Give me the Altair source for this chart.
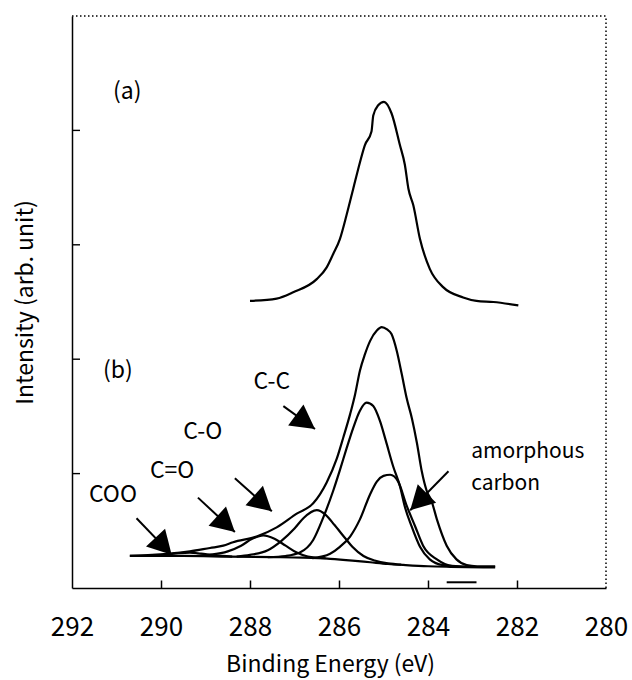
import altair as alt
import pandas as pd

FONT = "Noto Sans CJK JP"

# ---------------- data ----------------
# spectrum (a)
a_x = [288.0, 287.40, 287.03, 286.50, 286.28, 286.13, 285.98, 285.83, 285.68, 285.53,
       285.42, 285.27, 285.23, 285.12, 284.99, 284.82, 284.63, 284.52, 284.44, 284.33,
       284.18, 283.96, 283.66, 283.21, 282.91, 282.53, 281.97]
a_y = [2.51, 2.53, 2.585, 2.70, 2.80, 2.92, 3.05, 3.26, 3.49, 3.72,
       3.87, 3.99, 4.13, 4.22, 4.25, 4.15, 3.87, 3.70, 3.49, 3.345,
       3.05, 2.79, 2.63, 2.54, 2.51, 2.50, 2.47]

# spectrum (b): envelope
env_x = [290.70, 290.2, 289.57, 289.35, 288.90, 288.60, 288.38, 287.85, 287.40, 286.95,
         286.58, 286.28, 286.05, 285.90, 285.75, 285.64, 285.53, 285.42, 285.30, 285.15,
         285.04, 284.92, 284.82, 284.70, 284.59, 284.48, 284.36, 284.25, 284.14, 284.03,
         283.92, 283.80, 283.58, 283.36, 283.13, 282.91, 282.49]
env_y = [0.28, 0.29, 0.31, 0.32, 0.35, 0.37, 0.40, 0.45, 0.53, 0.65,
         0.74, 0.92, 1.13, 1.32, 1.52, 1.69, 1.90, 2.04, 2.16, 2.25,
         2.28, 2.26, 2.22, 2.07, 1.87, 1.66, 1.48, 1.27, 1.02, 0.85,
         0.76, 0.60, 0.37, 0.25, 0.20, 0.19, 0.19]

# background line
bg_x = [290.70, 289.5, 288.5, 287.5, 286.8, 286.2, 285.7, 285.3, 284.9, 284.5, 284.0, 283.5, 282.49]
bg_y = [0.28, 0.28, 0.275, 0.27, 0.265, 0.255, 0.24, 0.225, 0.21, 0.20, 0.19, 0.185, 0.18]

# C-C component
cc_x = [287.6, 287.2, 286.88, 286.58, 286.35, 286.13, 285.98, 285.83, 285.68, 285.53,
        285.38, 285.23, 285.08, 284.95, 284.78, 284.63, 284.52, 284.37, 284.18, 283.96,
        283.66, 283.3, 282.9]
cc_y = [0.27, 0.28, 0.31, 0.42, 0.62, 0.85, 1.03, 1.22, 1.40, 1.55,
        1.62, 1.59, 1.46, 1.29, 1.06, 0.89, 0.71, 0.54, 0.36, 0.25,
        0.20, 0.19, 0.185]

# amorphous carbon component
am_x = [286.6, 286.2, 285.98, 285.75, 285.53, 285.30, 285.15, 285.0, 284.85, 284.67,
        284.48, 284.29, 284.11, 283.80, 283.43, 283.0]
am_y = [0.26, 0.30, 0.36, 0.45, 0.60, 0.82, 0.93, 0.98, 0.99, 0.93,
        0.72, 0.54, 0.37, 0.25, 0.19, 0.185]

# C-O component
co_x = [288.3, 288.0, 287.6, 287.3, 287.0, 286.8, 286.5, 286.3, 286.1, 285.85,
        285.7, 285.45, 285.2, 284.9, 284.6]
co_y = [0.275, 0.29, 0.33, 0.41, 0.52, 0.61, 0.68, 0.64, 0.55, 0.43,
        0.36, 0.28, 0.24, 0.215, 0.205]

# C=O component
c2o_x = [289.2, 288.9, 288.5, 288.2, 287.95, 287.7, 287.45, 287.2, 286.95, 286.7, 286.3]
c2o_y = [0.28, 0.29, 0.32, 0.37, 0.43, 0.46, 0.43, 0.37, 0.31, 0.275, 0.26]

# COO component
coo_x = [290.3, 289.9, 289.6, 289.35, 289.1, 288.8, 288.4]
coo_y = [0.28, 0.29, 0.305, 0.31, 0.30, 0.285, 0.275]

# labels
label_text = ["(a)", "(b)", "C-C", "C-O", "C=O", "COO"]
label_x = [290.76, 290.97, 287.51, 289.06, 289.75, 291.08]
label_y = [4.34, 1.895, 1.80, 1.36, 1.02, 0.816]

am_text = ["amorphous", "carbon"]
am_tx = [283.03, 283.03]
am_ty = [1.19, 0.91]

# arrows: start (x1, y1) -> tip (x2, y2)
arr_x1 = [287.25, 288.34, 289.17, 290.55, 283.54]
arr_y1 = [1.59, 0.96, 0.79, 0.61, 1.02]
arr_x2 = [286.54, 287.51, 288.34, 289.76, 284.40]
arr_y2 = [1.39, 0.67, 0.49, 0.29, 0.68]
arr_angle = [36, 42, 42, 47, 135]

# axis ticks
xticks = [292, 290, 288, 286, 284, 282, 280]
xtick_marks = [290, 288, 286, 284, 282]
ytick_marks = [1.0, 2.0, 3.0, 4.0]

# small bar near the axis
bar_x = [283.58]
bar_x2 = [282.91]
bar_y = [0.05]

# ---------------- build ----------------
rows = []
for name, xs, ys in [("a", a_x, a_y), ("env", env_x, env_y), ("bg", bg_x, bg_y),
                     ("cc", cc_x, cc_y), ("am", am_x, am_y), ("co", co_x, co_y),
                     ("c2o", c2o_x, c2o_y), ("coo", coo_x, coo_y)]:
    for i, (xv, yv) in enumerate(zip(xs, ys)):
        rows.append({"s": name, "x": xv, "y": yv, "i": i, "w": 2.2})
# inward y-axis tick marks as short two-point segments
for v in ytick_marks:
    rows.append({"s": f"yt{v}", "x": 292.0, "y": v, "i": 0, "w": 1.4})
    rows.append({"s": f"yt{v}", "x": 291.82, "y": v, "i": 1, "w": 1.4})
curves = pd.DataFrame(rows)

xscale = alt.Scale(domain=[280, 292], reverse=True, nice=False, zero=False)
yscale = alt.Scale(domain=[0, 5], nice=False, zero=False)

xaxis = alt.Axis(values=xticks, format="d", ticks=False, grid=False, domain=True,
                 domainColor="black", domainWidth=1.5, labelFont=FONT, labelFontSize=26,
                 labelColor="black", labelPadding=26, title="Binding Energy (eV)",
                 titleFont=FONT, titleFontSize=23, titleFontWeight="normal",
                 titleColor="black", titlePadding=13, titleX=258, labelFlush=False)
yaxis = alt.Axis(ticks=False, labels=False, grid=False, domain=True, domainColor="black",
                 domainWidth=1.5, title="Intensity (arb. unit)", titleFont=FONT,
                 titleFontSize=23, titleFontWeight="normal", titleColor="black",
                 titlePadding=35)

# a second x axis, oriented "top" but shifted down onto the bottom edge,
# whose outward ticks therefore point up into the plot (inward ticks)
tick_axis = alt.Axis(orient="top", offset=-572, values=xtick_marks, labels=False,
                     domain=False, ticks=True, tickSize=8, tickWidth=1.5,
                     tickColor="black", grid=False, title="")

X = lambda f: alt.X(f, scale=xscale, axis=xaxis)
Y = lambda f: alt.Y(f, scale=yscale, axis=yaxis)

lines = alt.Chart(curves).mark_line(color="black", interpolate="monotone").encode(
    x=X("x:Q"), y=Y("y:Q"), detail="s:N", order="i:Q",
    strokeWidth=alt.StrokeWidth("w:Q", scale=None),
)

labels = alt.Chart(pd.DataFrame({"t": label_text, "x": label_x, "y": label_y})).mark_text(
    font=FONT, fontSize=23, color="black", align="center", baseline="middle"
).encode(x=X("x:Q"), y=Y("y:Q"), text="t:N")

am_labels = alt.Chart(pd.DataFrame({"t": am_text, "x": am_tx, "y": am_ty})).mark_text(
    font=FONT, fontSize=21, color="black", align="left", baseline="middle"
).encode(x=X("x:Q"), y=Y("y:Q"), text="t:N")

arrows_df = pd.DataFrame({"x": arr_x1, "y": arr_y1, "xt": arr_x2, "yt": arr_y2, "ang": arr_angle})
shafts = alt.Chart(arrows_df).mark_rule(color="black", strokeWidth=2).encode(
    x=X("x:Q"), y=Y("y:Q"), x2="xt:Q", y2="yt:Q")
heads = alt.Chart(arrows_df).mark_point(
    shape="M0,0L-2,-1.1L-2,1.1Z", filled=True, color="black", opacity=1, size=560, strokeWidth=0
).encode(x=X("xt:Q"), y=Y("yt:Q"), angle=alt.Angle("ang:Q", scale=None))

border_df = pd.DataFrame({"x": [292.0, 280.0], "y": [5.0, 0.0], "x2": [280.0, 280.0], "y2": [5.0, 5.0]})
border = alt.Chart(border_df).mark_rule(color="black", strokeWidth=1.5, strokeDash=[1.5, 2.5]).encode(
    x=X("x:Q"), y=Y("y:Q"), x2="x2:Q", y2="y2:Q")

bar = alt.Chart(pd.DataFrame({"x": bar_x, "x2": bar_x2, "y": bar_y})).mark_rule(color="black", strokeWidth=2).encode(
    x=X("x:Q"), x2="x2:Q", y=Y("y:Q"))

main = alt.layer(lines, labels, am_labels, shafts, heads, border, bar)

tick_layer = alt.Chart(pd.DataFrame({"x": [float(v) for v in xtick_marks]})).mark_point(opacity=0).encode(
    x=alt.X("x:Q", scale=xscale, axis=tick_axis)
)

chart = alt.layer(main, tick_layer).resolve_axis(x="independent").properties(
    width=534, height=572,
    autosize=alt.AutoSizeParams(type="none"),
    padding={"left": 72, "top": 16, "right": 26, "bottom": 92},
    background="white",
).configure_view(stroke=None)

chart.save("out.html", embed_options={"renderer": "svg", "actions": False})
